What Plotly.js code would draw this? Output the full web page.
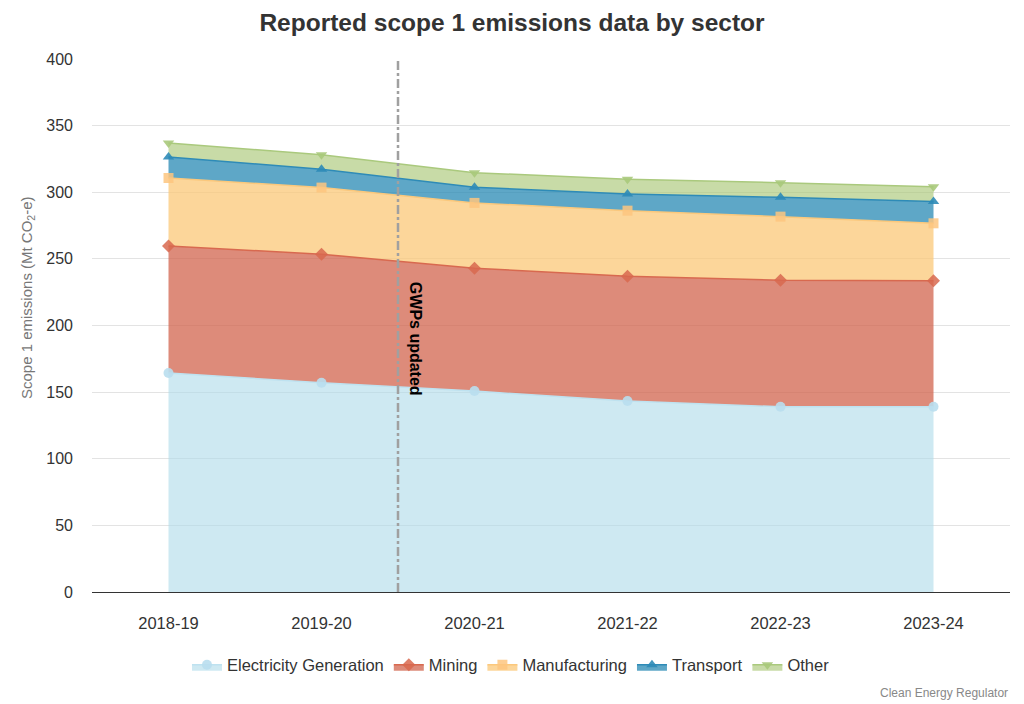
<!DOCTYPE html>
<html><head><meta charset="utf-8">
<script src="https://cdn.plot.ly/plotly-3.0.1.min.js"></script>
<style>html,body{margin:0;padding:0;background:#fff}#chart{width:1024px;height:704px}</style>
</head><body><div id="chart"></div>
<script>
const years = ["2018-19","2019-20","2020-21","2021-22","2022-23","2023-24"];
const electricity = [164.4, 157.0, 150.8, 143.3, 139.0, 139.0];
const mining = [95.3, 96.5, 92.2, 93.7, 95.0, 94.6];
const manufacturing = [51.0, 50.0, 49.0, 49.2, 47.7, 43.1];
const transport = [15.8, 13.7, 11.7, 12.5, 14.5, 16.3];
const other = [10.5, 11.0, 11.0, 11.0, 11.0, 11.2];
const seriesNames = ["Electricity Generation","Mining","Manufacturing","Transport","Other"];

const styles = [
  {fill:"rgba(174,218,234,0.6)", line:"rgba(190,226,240,1)", marker:"rgba(185,222,238,0.9)", symbol:"circle"},
  {fill:"rgba(210,100,78,0.75)", line:"#d8694f", marker:"rgba(216,105,79,0.85)", symbol:"diamond"},
  {fill:"rgba(251,200,120,0.75)", line:"#fbc87c", marker:"rgba(253,197,127,0.85)", symbol:"square"},
  {fill:"rgba(40,137,180,0.75)", line:"#2e8bb7", marker:"rgba(46,139,183,0.9)", symbol:"triangle-up"},
  {fill:"rgba(170,200,120,0.65)", line:"#aac97d", marker:"rgba(169,201,123,0.9)", symbol:"triangle-down"}
];
const data = [electricity, mining, manufacturing, transport, other];
const traces = data.map((vals, i) => ({
  type: "scatter", mode: "lines+markers", x: years, y: vals, name: seriesNames[i],
  stackgroup: "one", fillcolor: styles[i].fill,
  line: {color: styles[i].line, width: 1.5},
  marker: {color: styles[i].marker, symbol: styles[i].symbol, size: 10},
  hoverinfo: "x+y+name"
}));

const layout = {
  width: 1024, height: 704,
  margin: {l: 92, r: 14, t: 59, b: 112},
  paper_bgcolor: "#fff", plot_bgcolor: "#fff",
  font: {family: "Liberation Sans, Arial, sans-serif", color: "#333"},
  title: {text: "<b>Reported scope 1 emissions data by sector</b>", x: 0.5, xanchor: "center", y: 0.968, yanchor: "middle", font: {size: 24.5, color: "#333"}},
  xaxis: {type: "category", range: [-0.5, 5.5], showgrid: false, showline: true, linecolor: "#333", linewidth: 1,
          ticks: "", tickfont: {size: 16.5, color: "#333"}, ticklabelstandoff: 16},
  yaxis: {range: [0, 400], dtick: 50, showgrid: true, gridcolor: "#e3e3e3", zeroline: false,
          tickfont: {size: 16, color: "#333"}, ticks: "", ticklabelstandoff: 18},
  showlegend: true,
  legend: {orientation: "h", x: 0.4564, xanchor: "center", y: -0.137, yanchor: "middle", font: {size: 16.5, color: "#333"}, traceorder: "normal"},
  shapes: [{type: "line", xref: "x", yref: "paper", x0: 1.5, x1: 1.5, y0: 0, y1: 1,
            line: {color: "#a0a0a0", width: 2.5, dash: "dashdot"}}],
  annotations: [
    {text: "Scope 1 emissions (Mt CO<sub>2</sub>-e)", xref: "paper", yref: "y", x: 0, xshift: -76, y: 221, textangle: -90,
     showarrow: false, font: {size: 15, color: "#777"}},
    {text: "<b>GWPs updated</b>", xref: "x", yref: "y", x: 1.5, y: 190, xshift: 17, textangle: 90,
     showarrow: false, font: {size: 16, color: "#000"}},
    {text: "Clean Energy Regulator", xref: "paper", yref: "paper", x: 1, y: -0.19, xanchor: "right", yanchor: "middle",
     showarrow: false, font: {size: 12, color: "#888"}}
  ]
};
Plotly.newPlot("chart", traces, layout, {displayModeBar: false, responsive: false});
</script></body></html>
